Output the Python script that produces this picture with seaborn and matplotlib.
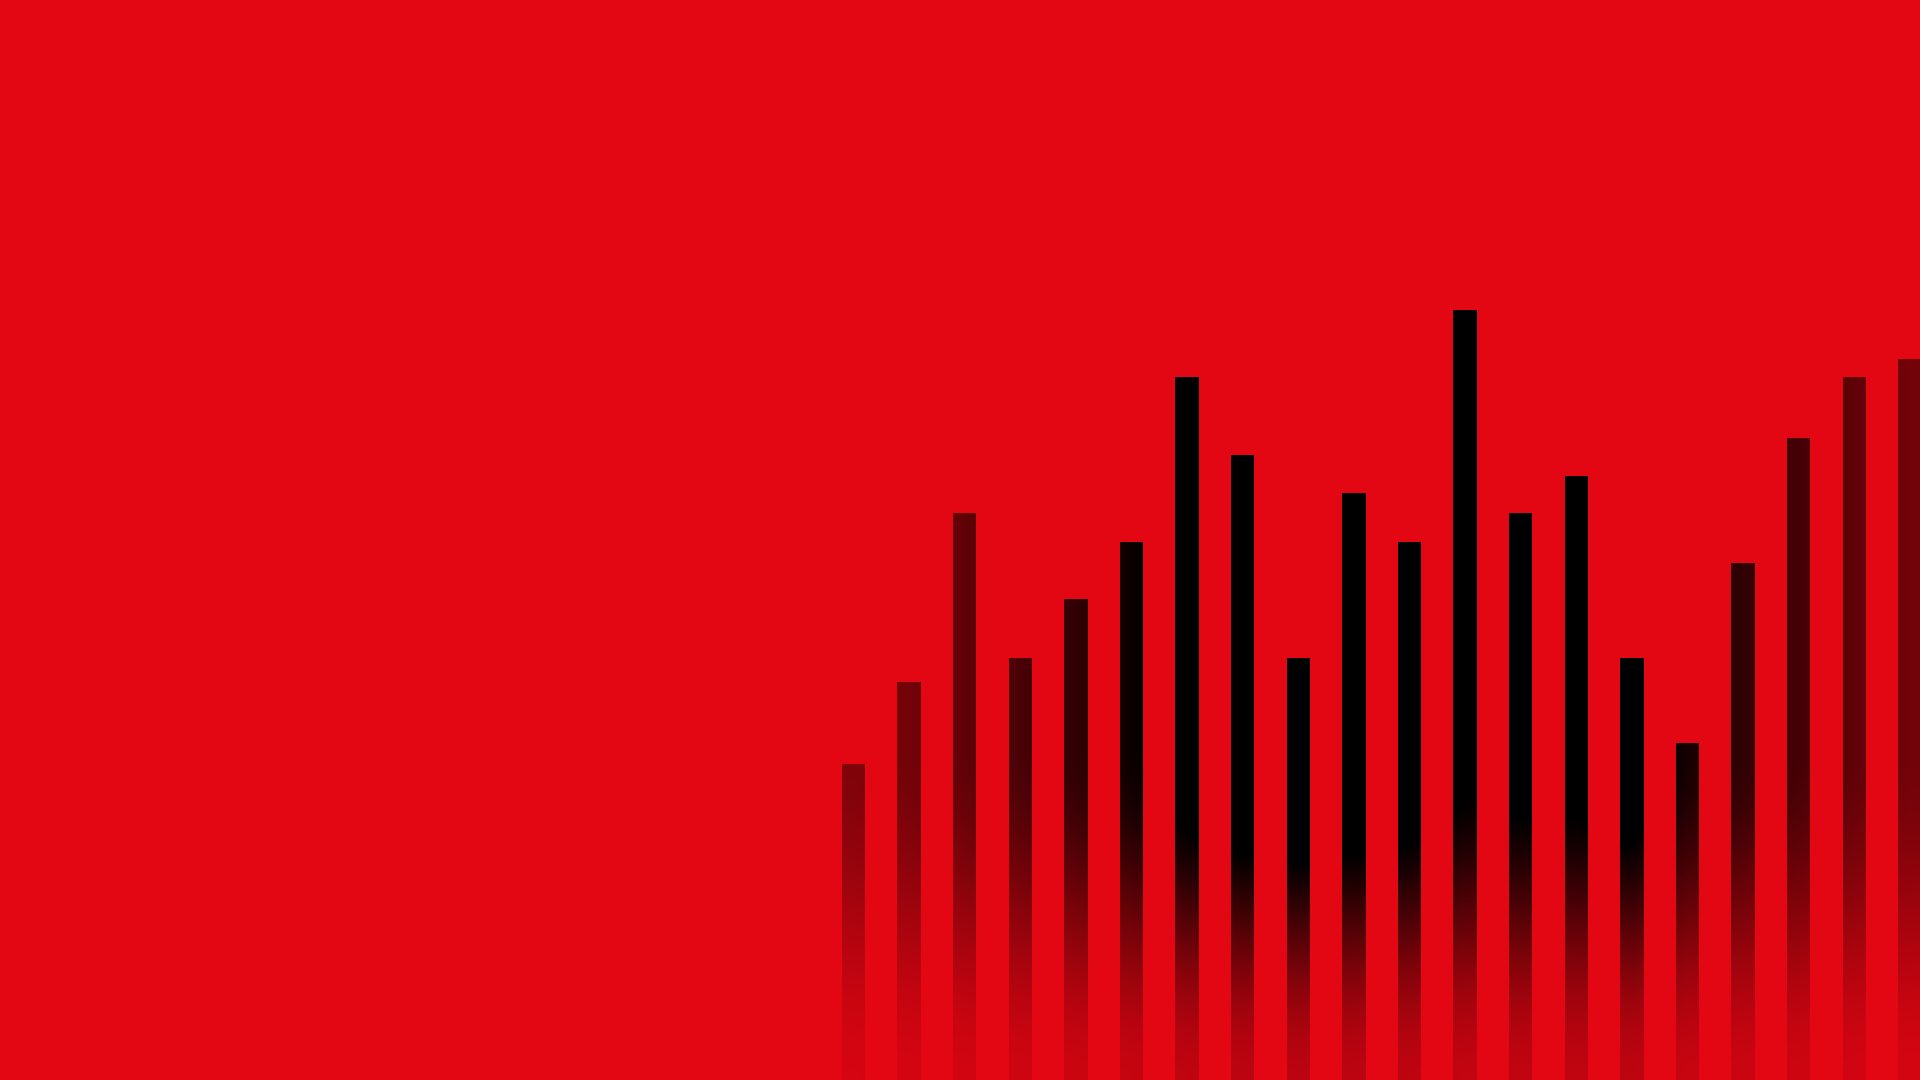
import numpy as np
import pandas as pd
import matplotlib
matplotlib.use("Agg")
import matplotlib.pyplot as plt
import seaborn as sns
from matplotlib.path import Path

#%% data: 20 bars, heights (0-108 scale = full canvas height)
bar_labels = [str(i) for i in range(1, 21)]
bar_values = [31.6, 39.8, 56.7, 42.2, 48.1, 53.8, 70.3, 62.5, 42.2, 58.7,
              53.8, 77.0, 56.7, 60.4, 42.2, 33.7, 51.7, 64.2, 70.3, 72.1]
# how dark each bar is at its top (>1 means it stays pure black further down)
bar_shade = [0.44, 0.50, 0.58, 0.68, 0.79, 0.95, 1.15, 1.25, 1.30, 1.25,
             1.20, 1.05, 1.10, 1.10, 1.20, 0.90, 0.79, 0.70, 0.58, 0.50]

df = pd.DataFrame({"bar": bar_labels, "value": bar_values})

bg = "#E30613"
W, H = 1920, 1080
first_px, step_px = 853.5, 55.6   # centre of first bar, spacing (pixels)

sns.set_style("white")
fig = plt.figure(figsize=(19.2, 10.8), dpi=100, facecolor=bg)
ax = fig.add_axes([0, 0, 1, 1])

sns.barplot(data=df, x="bar", y="value", color=bg, saturation=1,
            width=0.42, linewidth=0, ax=ax)

xl = -first_px / step_px
xr = (W - first_px) / step_px
ax.set_xlim(xl, xr)
ax.set_ylim(0, 108)
ax.set_axis_off()

# black overlay: darkness varies across the bars and fades out near the bottom
px = np.arange(W)
py = np.arange(H)
centers = first_px + step_px * np.arange(len(bar_shade))
h = np.interp(px, centers, bar_shade)
t = np.clip((py - 750) / (H - 750), 0, 1)
t = t * t * (3 - 2 * t)
v = 1 - 0.86 * t
alpha = np.clip(v[:, None] * h[None, :], 0, 1)
rgba = np.zeros((H, W, 4))
rgba[..., 3] = alpha

im = ax.imshow(rgba, extent=(xl, xr, 0, 108), origin="upper",
               aspect="auto", interpolation="bilinear", zorder=5)
clip = Path.make_compound_path(*[p.get_path().transformed(p.get_patch_transform())
                                 for p in ax.patches])
im.set_clip_path(clip, ax.transData)
ax.set_xlim(xl, xr)
ax.set_ylim(0, 108)

fig.savefig("out.png", dpi=100, facecolor=bg)
